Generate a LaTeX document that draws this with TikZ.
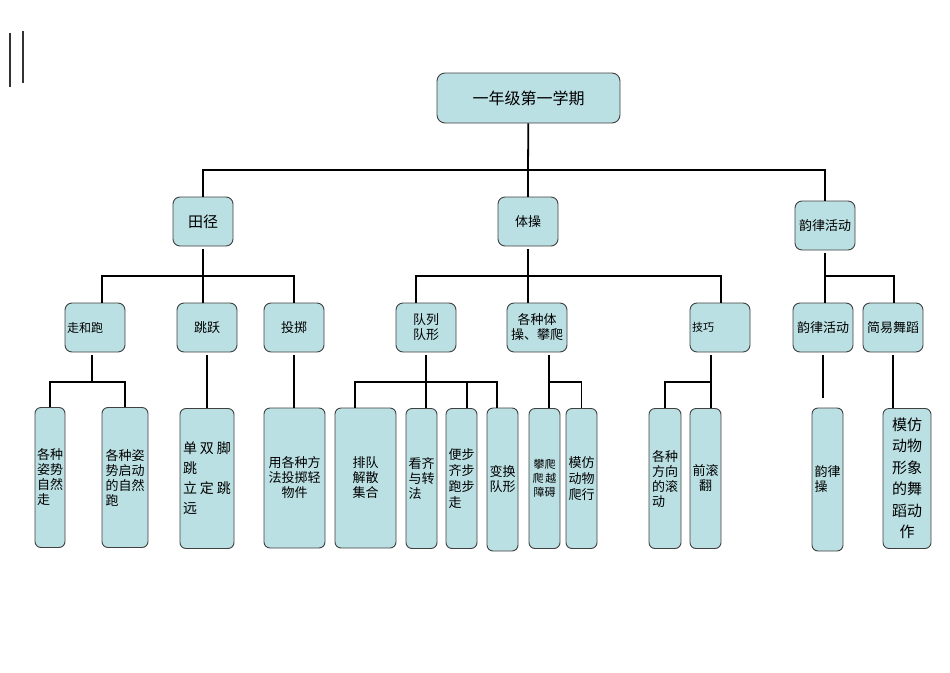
\documentclass[tikz,border=0pt]{standalone}
\usepackage{fontspec}
\newfontfamily\cjk{Noto Sans CJK SC}

\definecolor{boxfill}{RGB}{187,224,227}

\begin{document}
\begin{tikzpicture}[x=1pt,y=-1pt,
    box/.style={draw=black!75, line width=0.9pt, fill=boxfill, rounded corners=7pt,
        inner sep=0pt, align=center, font=\cjk\fontsize{13}{15}\selectfont},
    mid/.style={box, minimum width=60pt, minimum height=49pt},
    leaf/.style={box, minimum width=31pt, minimum height=140pt, rounded corners=6pt},
    link/.style={line width=1.8pt, black},
    stub/.style={link, shorten <=3pt}]
        \useasboundingbox (0,0) rectangle (950,672);
        \draw[line width=1.3pt, black!80] (10,33) -- (10,87);
        \draw[line width=1.3pt, black!80] (23,31) -- (23,83);
        % top and first level
        \node[box, minimum width=183pt, minimum height=50pt, rounded corners=8pt,
            font=\cjk\fontsize{16}{18}\selectfont] (top) at (528.5,98) {一年级第一学期};
        \node[mid, font=\cjk\fontsize{15}{17}\selectfont] (tj) at (203,221.5) {田径};
        \node[mid] (tc) at (528,221.5) {体操};
        \node[mid] (yl) at (825,225.5) {韵律活动};
        % second level
        \node[mid, text width=56pt, inner xsep=2pt, align=left,
            font=\cjk\fontsize{12}{14}\selectfont] (zhp) at (95,327.5) {走和跑};
        \node[mid] (ty) at (207,327.5) {跳跃};
        \node[mid] (tz) at (294,327.5) {投掷};
        \node[mid] (dl) at (426,327.5) {队列\\队形};
        \node[mid] (gz) at (537,327.5) {各种体\\操、攀爬};
        \node[mid, text width=56pt, inner xsep=2pt, align=left,
            font=\cjk\fontsize{11}{13}\selectfont] (jq) at (720,327.5) {技巧};
        \node[mid] (yl2) at (823,327.5) {韵律活动};
        \node[mid] (jy) at (893,327.5) {简易舞蹈};
        % leaves
        \node[leaf, minimum width=30pt, align=left] (zs1) at (50,477.5) {各种\\姿势\\自然\\走};
        \node[leaf, minimum width=46pt, align=left] (zs2) at (125,477.5) {各种姿\\势启动\\的自然\\跑};
        \node[leaf, minimum width=54pt, align=left, font=\cjk\fontsize{14}{20}\selectfont]
            (ql) at (207,478.5) {单\hspace{3pt}双\hspace{3pt}脚\\跳\\立\hspace{3pt}定\hspace{3pt}跳\\远};
        \node[leaf, minimum width=61pt] (tq) at (294.5,478) {用各种方\\法投掷轻\\物件};
        \node[leaf, minimum width=61pt] (pd) at (365.5,478) {排队\\解散\\集合};
        \node[leaf, align=left] (kq) at (421.5,478.5) {看齐\\与转\\法};
        \node[leaf, align=left, font=\cjk\fontsize{13}{16}\selectfont] (bb) at (461.5,478.5) {便步\\齐步\\跑步\\走};
        \node[leaf, minimum height=143pt] (bh) at (502.5,479.5) {变换\\队形};
        \node[leaf, font=\cjk\fontsize{11}{14}\selectfont] (pp) at (544.5,478.5) {攀爬\\爬\,越\\障碍};
        \node[leaf, font=\cjk\fontsize{13}{16}\selectfont] (mf) at (581.5,478.5) {模仿\\动物\\爬行};
        \node[leaf, minimum width=32pt, align=left] (gf) at (665,478.5) {各种\\方向\\的滚\\动};
        \node[leaf] (qg) at (705.5,478.5) {前滚\\翻};
        \node[leaf, minimum height=143pt, align=left] (ylc) at (827.5,479.5) {韵律\\操};
        \node[leaf, minimum width=48pt, font=\cjk\fontsize{15}{21.5}\selectfont]
            (mw) at (907,478.5) {模仿\\动物\\形象\\的舞\\蹈动\\作};
        % bus points
        \coordinate (b0) at (528,170);
        \coordinate (b1) at (102,276);
        \coordinate (b2) at (416,276);
        \coordinate (b3) at (721,276);
        \coordinate (b4) at (894,276);
        \coordinate (c1) at (92,382);
        \coordinate (d1) at (355,382);
        \coordinate (d3) at (467,382);
        \coordinate (d4) at (497,382);
        \coordinate (g1) at (549,382);
        \coordinate (j1) at (711,382);
        \coordinate (y1) at (823,398);
        % connectors
        \draw[link] (top) -- (b0);
        \draw[link] (tj.north) |- (b0) -| (yl.north);
        \draw[link] (b0) -- (tc.north);
        \draw[stub] (tj.south) -- (tj.south |- ty.north);
        \draw[link] (b1 |- zhp.north) -- (b1) -| (tz.north);
        \draw[stub] (tc.south) -- (tc.south |- gz.north);
        \draw[link] (b2 |- dl.north) -- (b2) -| (b3 |- jq.north);
        \draw[stub] (yl.south) -- (yl.south |- yl2.north);
        \draw[link] (yl.south |- b4) -- (b4) -- (jy.north -| b4);
        \draw[stub] (zhp.south -| c1) -- (c1);
        \draw[link] (zs1.north) |- (c1) -| (zs2.north);
        \draw[stub] (ty.south) -- (ty.south |- ql.north);
        \draw[stub] (tz.south) -- (tz.south |- tq.north);
        \draw[stub] (dl.south) -- (dl.south |- kq.north);
        \draw[link] (d1 |- pd.north) -- (d1) -- (d4) -- (d4 |- bh.north);
        \draw[link] (d3) -- (d3 |- bb.north);
        \draw[stub] (gz.south -| g1) -- (g1 |- pp.north);
        \draw[link] (g1) -| (mf.north);
        \draw[stub] (jq.south -| j1) -- (j1 |- qg.north);
        \draw[link] (j1) -| (gf.north);
        \draw[stub] (yl2.south) -- (y1);
        \draw[stub] (jy.south) -- (jy.south |- mw.north);
    \end{tikzpicture}
\end{document}
